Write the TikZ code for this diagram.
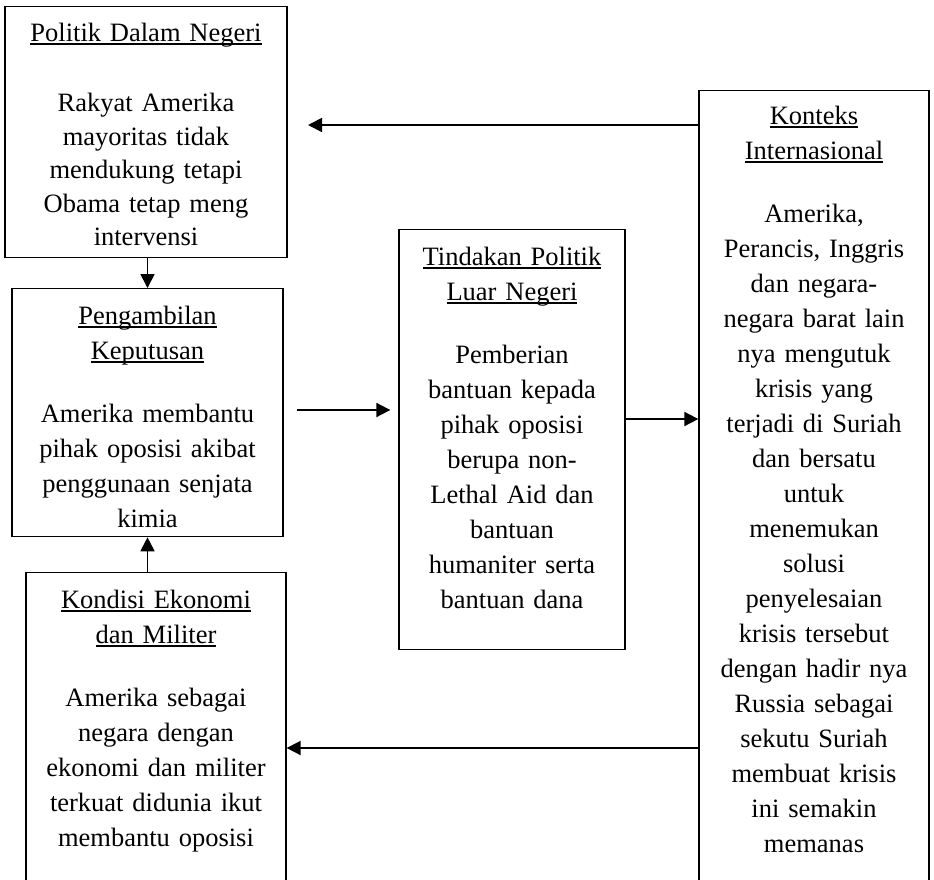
\documentclass[tikz,border=0pt]{standalone}
\usepackage{fontspec}
\setmainfont{Liberation Serif}
\usetikzlibrary{arrows.meta}
\newcommand{\judul}[1]{\leavevmode\setbox0\hbox{#1}\rlap{\rule[-3pt]{\wd0}{1.5pt}}\box0}
\tikzset{
  factor/.style={rectangle, draw=black, line width=1.3pt, inner sep=0, anchor=north, align=center, font=\fontsize{26.5pt}{35pt}\selectfont},
  flow/.style={-{Triangle[length=14pt, width=14pt]}, line width=1.8pt}
}
\begin{document}
\begin{tikzpicture}[x=1pt, y=-1pt]
      \useasboundingbox (0, 0) rectangle (934, 879);
      \clip (0, 0) rectangle (934, 879);

      \node[factor, text width=282pt, text height=35pt, text depth=216pt, font=\fontsize{26.5pt}{33.5pt}\selectfont](politik) at (146, 6){\judul{Politik Dalam Negeri}\\[36.5pt]Rakyat Amerika\\mayoritas tidak\\mendukung tetapi\\Obama tetap meng\\intervensi};
      \node[factor, text width=271pt, text height=36pt, text depth=212pt](keputusan) at (147.5, 288){\judul{Pengambilan}\\\judul{Keputusan}\\[27.5pt]Amerika membantu\\pihak oposisi akibat\\penggunaan senjata\\kimia};
      \node[factor, text width=260pt, text height=36pt, text depth=282pt](kondisi) at (156, 572){\judul{Kondisi Ekonomi}\\\judul{dan Militer}\\[27.5pt]Amerika sebagai\\negara dengan\\ekonomi dan militer\\terkuat didunia ikut\\membantu oposisi};
      \node[factor, text width=226pt, text height=36pt, text depth=384pt](tindakan) at (512, 229){\judul{Tindakan Politik}\\\judul{Luar Negeri}\\[27.5pt]Pemberian\\bantuan kepada\\pihak oposisi\\berupa non-\\Lethal Aid dan\\bantuan\\humaniter serta\\bantuan dana};
      \node[factor, text width=230pt, text height=34pt, text depth=766pt](konteks) at (814, 90){\judul{Konteks}\\\judul{Internasional}\\[28pt]Amerika,\\Perancis, Inggris\\dan negara-\\negara barat lain\\nya mengutuk\\krisis yang\\terjadi di Suriah\\dan bersatu\\untuk\\menemukan\\solusi\\penyelesaian\\krisis tersebut\\dengan hadir nya\\Russia sebagai\\sekutu Suriah\\membuat krisis\\ini semakin\\memanas};

      \coordinate(atas) at (308, 125);
      \coordinate(tengah) at (0, 410);
      \coordinate(kanan) at (0, 419);
      \coordinate(bawah) at (0, 748);

      \draw[flow](konteks.west |- atas)--(atas);
      \draw[flow](politik.south -| keputusan.north)--(keputusan.north);
      \draw[flow](kondisi.north -| keputusan.south)--(keputusan.south);
      \draw[flow, shorten <=13pt, shorten >=8pt](keputusan.east |- tengah)--(tindakan.west |- tengah);
      \draw[flow](tindakan.east |- kanan)--(konteks.west |- kanan);
      \draw[flow](konteks.west |- bawah)--(kondisi.east |- bawah);
    \end{tikzpicture}
\end{document}
